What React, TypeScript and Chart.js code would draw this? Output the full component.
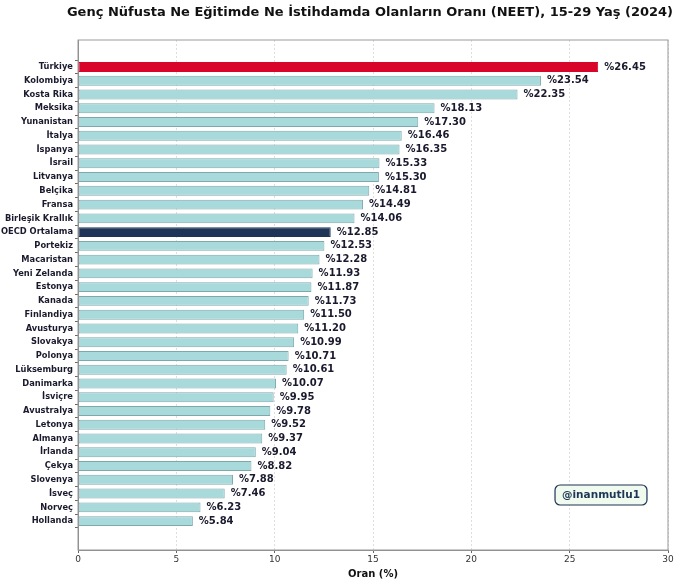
import React, { useEffect, useRef } from "react";
import { Chart, registerables } from "chart.js";

Chart.register(...registerables);

const TITLE = "Genç Nüfusta Ne Eğitimde Ne İstihdamda Olanların Oranı (NEET), 15-29 Yaş (2024)";
const X_TITLE = "Oran (%)";
const WATERMARK = "@inanmutlu1";

const countries = [
  "Türkiye", "Kolombiya", "Kosta Rika", "Meksika", "Yunanistan", "İtalya", "İspanya",
  "İsrail", "Litvanya", "Belçika", "Fransa", "Birleşik Krallık", "OECD Ortalama",
  "Portekiz", "Macaristan", "Yeni Zelanda", "Estonya", "Kanada", "Finlandiya",
  "Avusturya", "Slovakya", "Polonya", "Lüksemburg", "Danimarka", "İsviçre",
  "Avustralya", "Letonya", "Almanya", "İrlanda", "Çekya", "Slovenya", "İsveç",
  "Norveç", "Hollanda",
];

const neetRates = [
  26.45, 23.54, 22.35, 18.13, 17.3, 16.46, 16.35, 15.33, 15.3, 14.81, 14.49, 14.06,
  12.85, 12.53, 12.28, 11.93, 11.87, 11.73, 11.5, 11.2, 10.99, 10.71, 10.61, 10.07,
  9.95, 9.78, 9.52, 9.37, 9.04, 8.82, 7.88, 7.46, 6.23, 5.84,
];

const xTicks = [0, 5, 10, 15, 20, 25, 30];

const FONT = "'DejaVu Sans', sans-serif";
const COLOR_DEFAULT = "#a8dadc";
const COLOR_TURKIYE = "#d90429";
const COLOR_OECD = "#1d3557";

function barColor(name: string) {
  if (name === "Türkiye") return COLOR_TURKIYE;
  if (name === "OECD Ortalama") return COLOR_OECD;
  return COLOR_DEFAULT;
}

const overlayPlugin = {
  id: "overlay",
  afterDatasetsDraw(chart: any) {
    const { ctx, chartArea } = chart;
    const meta = chart.getDatasetMeta(0);
    ctx.save();
    ctx.font = `bold 10px ${FONT}`;
    ctx.fillStyle = "#1a1a2e";
    ctx.textAlign = "left";
    ctx.textBaseline = "middle";
    meta.data.forEach((bar: any, i: number) => {
      ctx.fillText("%" + neetRates[i].toFixed(2), bar.x + 6, bar.y);
    });
    // title centred over plot area
    ctx.font = `bold 13px ${FONT}`;
    ctx.fillStyle = "#111";
    ctx.textAlign = "center";
    ctx.fillText(TITLE, (chartArea.left + chartArea.right) / 2 - 3, 13);
    // watermark box
    const cx = chartArea.right - 67;
    const cy = chartArea.bottom - 55;
    ctx.font = `bold 10.5px ${FONT}`;
    const w = ctx.measureText(WATERMARK).width + 14;
    const h = 20;
    ctx.beginPath();
    (ctx as any).roundRect(cx - w / 2, cy - h / 2, w, h, 5);
    ctx.fillStyle = "#f1faee";
    ctx.fill();
    ctx.lineWidth = 1.2;
    ctx.strokeStyle = "#1d3557";
    ctx.stroke();
    ctx.fillStyle = "#1d3557";
    ctx.fillText(WATERMARK, cx, cy + 0.5);
    // outer frame
    ctx.strokeStyle = "#999";
    ctx.lineWidth = 1;
    ctx.strokeRect(chartArea.left, chartArea.top, chartArea.right - chartArea.left, chartArea.bottom - chartArea.top);
    ctx.restore();
  },
};

export default function App() {
  const ref = useRef<HTMLCanvasElement | null>(null);
  useEffect(() => {
    document.body.style.margin = "0";
    const canvas = ref.current!;
    const chart = new Chart(canvas, {
      type: "bar",
      data: {
        datasets: [
          {
            data: neetRates.map((v, i) => ({ x: v, y: i })),
            backgroundColor: countries.map(barColor),
            borderColor: countries.map((c) => (barColor(c) === COLOR_DEFAULT ? "#7fa8aa" : barColor(c))),
            borderWidth: 1,
            borderSkipped: false,
            barPercentage: 0.72,
            categoryPercentage: 1,
          },
        ],
      },
      options: {
        indexAxis: "y",
        animation: false,
        responsive: false,
        devicePixelRatio: 1,
        layout: { padding: { top: 40, right: 12, left: 0, bottom: 5 } },
        plugins: { legend: { display: false }, tooltip: { enabled: false }, title: { display: false } },
        scales: {
          y: {
            type: "linear",
            reverse: true,
            bounds: "data",
            offset: false,
            min: -1.96,
            max: 35.1,
            afterBuildTicks: (scale: any) => {
              scale.ticks = countries.map((_, i) => ({ value: i }));
            },
            afterFit: (scale: any) => {
              scale.width = 78;
            },
            ticks: {
              autoSkip: false,
              padding: 2,
              color: "#1a1a2e",
              font: { family: FONT, size: 8.3, weight: "bold" },
              callback: (v: any) => countries[v] ?? "",
            },
            grid: { display: true, drawOnChartArea: false, drawTicks: true, tickLength: 3, color: "#666" },
            border: { display: true, color: "#888" },
          },
          x: {
            type: "linear",
            bounds: "data",
            min: 0,
            max: 30,
            z: 1,
            afterBuildTicks: (scale: any) => {
              scale.ticks = xTicks.map((v) => ({ value: v }));
            },
            afterFit: (scale: any) => {
              scale.height = 30;
            },
            ticks: { color: "#333", padding: 1, font: { family: FONT, size: 9 } },
            grid: { color: "rgba(160,160,160,0.35)", tickLength: 3, tickColor: "#666" },
            border: { display: true, color: "#888", dash: [2, 2] },
            title: {
              display: true,
              text: X_TITLE,
              color: "#111",
              padding: { top: 0, bottom: 0 },
              font: { family: FONT, size: 10, weight: "bold" },
            },
          },
        },
      },
      plugins: [overlayPlugin],
    } as any);
    return () => chart.destroy();
  }, []);
  return <canvas ref={ref} width={680} height={585} style={{ display: "block" }} />;
}
